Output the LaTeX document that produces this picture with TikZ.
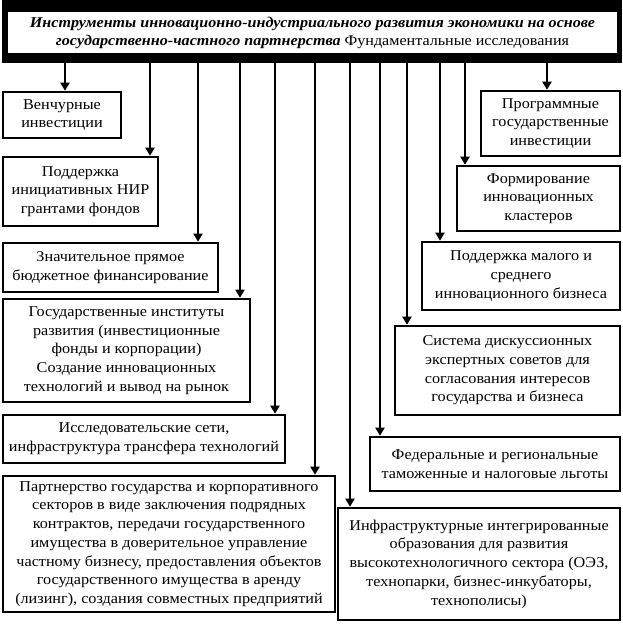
\documentclass[tikz,border=0pt]{standalone}
\usepackage{fontspec}
\setmainfont[FakeStretch=1.08]{Liberation Serif}
\usetikzlibrary{arrows.meta,positioning}

\begin{document}
\begin{tikzpicture}[x=1pt, y=-1pt,
    box/.style={draw, line width=2.6pt, align=center, inner sep=2pt,
      font=\fontsize{15}{18.7}\selectfont},
    arr/.style={line width=2.6pt, -{Triangle[length=8pt,width=9pt]}}]
    \useasboundingbox (0,0) rectangle (623,625);
    % header
    \node[fill=black, minimum width=620pt, minimum height=63pt, inner sep=0pt] (hdrbg) at (312,31.5) {};
    \node[fill=white, minimum width=609pt, minimum height=41pt, inner sep=0pt, align=center,
      font=\fontsize{14.9}{18}\selectfont] (hdr) at (312.5,32.5)
      {\textbf{\textit{Инструменты инновационно-индустриального развития экономики на основе}}\\
       \textbf{\textit{государственно-частного партнерства}} Фундаментальные исследования};
    % left column
    \node[box, minimum width=118pt, minimum height=46pt] (l1) at (62,115) {Венчурные\\инвестиции};
    \node[box, minimum width=155pt, minimum height=69pt] (l2) at (80.5,191.5) {Поддержка\\инициативных НИР\\грантами фондов};
    \node[box, minimum width=215pt, minimum height=49pt] (l3) at (110.5,267.5) {Значительное прямое\\бюджетное финансирование};
    \node[box, minimum width=247pt, minimum height=103pt] (l4) at (126.5,350.5) {Государственные институты\\развития (инвестиционные\\фонды и корпорации)\\Создание инновационных\\технологий и вывод на рынок};
    \node[box, minimum width=282pt, minimum height=48pt] (l5) at (144,439) {Исследовательские сети,\\инфраструктура трансфера технологий};
    \node[box, minimum width=332pt, minimum height=136pt] (l6) at (169,544) {Партнерство государства и корпоративного\\секторов в виде заключения подрядных\\контрактов, передачи государственного\\имущества в доверительное управление\\частному бизнесу, предоставления объектов\\государственного имущества в аренду\\(лизинг), создания совместных предприятий};
    % right column
    \node[box, minimum width=139pt, minimum height=65pt] (r1) at (550.5,123.5) {Программные\\государственные\\инвестиции};
    \node[box, minimum width=163pt, minimum height=65pt] (r2) at (538.5,198.5) {Формирование\\инновационных\\кластеров};
    \node[box, minimum width=198pt, minimum height=68pt] (r3) at (521,276) {Поддержка малого и\\среднего\\инновационного бизнеса};
    \node[box, minimum width=225pt, minimum height=89pt] (r4) at (507.5,370.5) {Система дискуссионных\\экспертных советов для\\согласования интересов\\государства и бизнеса};
    \node[box, minimum width=250pt, minimum height=54pt] (r5) at (495,464) {Федеральные и региональные\\таможенные и налоговые льготы};
    \node[box, minimum width=282pt, minimum height=112pt] (r6) at (479,564) {Инфраструктурные интегрированные\\образования для развития\\высокотехнологичного сектора (ОЭЗ,\\технопарки, бизнес-инкубаторы,\\технополисы)};
    % arrows
    \draw[arr] (hdrbg.south -| 65,0)  -- (l1.north -| 65,0);
    \draw[arr] (hdrbg.south -| 150,0) -- (l2.north -| 150,0);
    \draw[arr] (hdrbg.south -| 198,0) -- (l3.north -| 198,0);
    \draw[arr] (hdrbg.south -| 240,0) -- (l4.north -| 240,0);
    \draw[arr] (hdrbg.south -| 275,0) -- (l5.north -| 275,0);
    \draw[arr] (hdrbg.south -| 315,0) -- (l6.north -| 315,0);
    \draw[arr] (hdrbg.south -| 547,0) -- (r1.north -| 547,0);
    \draw[arr] (hdrbg.south -| 465,0) -- (r2.north -| 465,0);
    \draw[arr] (hdrbg.south -| 440,0) -- (r3.north -| 440,0);
    \draw[arr] (hdrbg.south -| 407,0) -- (r4.north -| 407,0);
    \draw[arr] (hdrbg.south -| 380,0) -- (r5.north -| 380,0);
    \draw[arr] (hdrbg.south -| 350,0) -- (r6.north -| 350,0);
\end{tikzpicture}
\end{document}
